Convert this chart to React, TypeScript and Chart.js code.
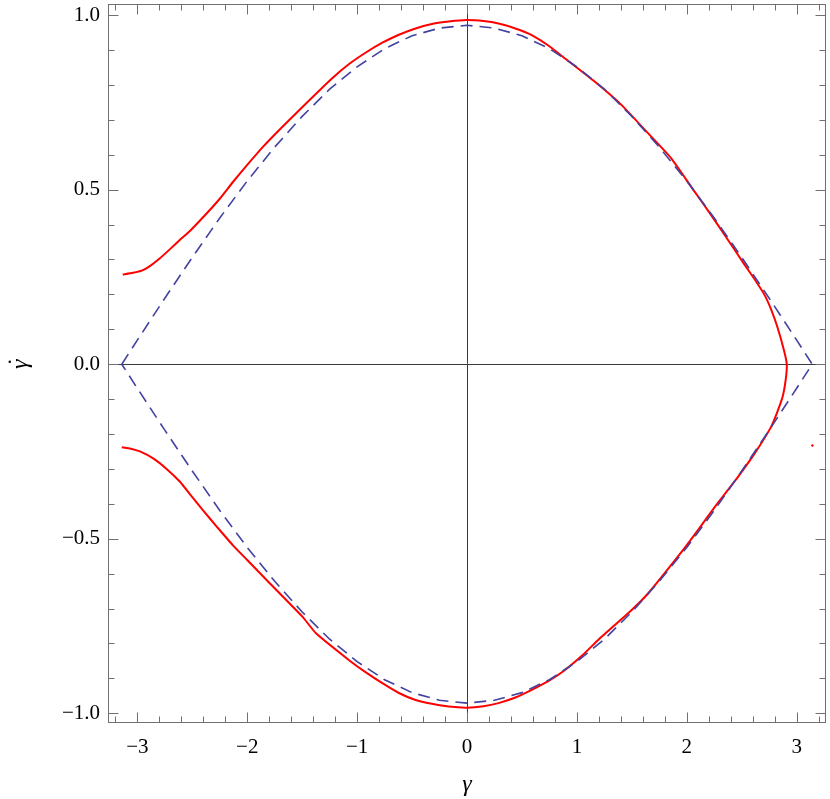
import React, { useEffect, useRef } from 'react';
import { Chart, registerables } from 'chart.js';

Chart.register(...registerables);

// axis ranges
const X_MIN = -3.267;
const X_MAX = 3.267;
const Y_MIN = -1.028;
const Y_MAX = 1.032;

// tick values and labels
const xMajorTicks = [-3, -2, -1, 0, 1, 2, 3];
const xTickLabels = ['\u22123', '\u22122', '\u22121', '0', '1', '2', '3'];
const xMinorTicks = [-3.2, -2.8, -2.6, -2.4, -2.2, -1.8, -1.6, -1.4, -1.2, -0.8, -0.6, -0.4, -0.2,
  0.2, 0.4, 0.6, 0.8, 1.2, 1.4, 1.6, 1.8, 2.2, 2.4, 2.6, 2.8, 3.2];
const yMajorTicks = [-1, -0.5, 0, 0.5, 1];
const yTickLabels = ['\u22121.0', '\u22120.5', '0.0', '0.5', '1.0'];
const yMinorTicks = [-0.9, -0.8, -0.7, -0.6, -0.4, -0.3, -0.2, -0.1, 0.1, 0.2, 0.3, 0.4, 0.6, 0.7, 0.8, 0.9];

const xTitle = '\u03B3';
const yTitle = '\u03B3';
const yTitleDot = '\u02D9';

// separatrix (dashed), upper half left->right then lower half right->left
const sepUpperX = [-3.1416, -3.0, -2.75, -2.5, -2.25, -2.0, -1.75, -1.5, -1.25, -1.0, -0.75, -0.5, -0.25, 0,
  0.25, 0.5, 0.75, 1.0, 1.25, 1.5, 1.75, 2.0, 2.25, 2.5, 2.75, 3.0, 3.1416];
const sepUpperY = [0, 0.069, 0.189, 0.306, 0.419, 0.525, 0.622, 0.710, 0.788, 0.852, 0.904, 0.941, 0.963, 0.971,
  0.963, 0.941, 0.904, 0.852, 0.788, 0.710, 0.622, 0.525, 0.419, 0.306, 0.189, 0.069, 0];
const sepLowerX = [3.0, 2.75, 2.5, 2.25, 2.0, 1.75, 1.5, 1.25, 1.0, 0.75, 0.5, 0.25, 0,
  -0.25, -0.5, -0.75, -1.0, -1.25, -1.5, -1.75, -2.0, -2.25, -2.5, -2.75, -3.0, -3.1416];
const sepLowerY = [-0.069, -0.189, -0.306, -0.419, -0.525, -0.622, -0.710, -0.788, -0.852, -0.904, -0.941, -0.963, -0.971,
  -0.963, -0.941, -0.904, -0.852, -0.788, -0.710, -0.622, -0.525, -0.419, -0.306, -0.189, -0.069, 0];

// trajectory (red): upper branch left->right, around the turning point, lower branch right->left
const trajX = [-3.133, -3.04, -2.96, -2.886, -2.8, -2.705, -2.6, -2.524, -2.372, -2.25, -2.13, -2.0, -1.859, -1.677,
  -1.465, -1.224, -1.073, -0.92, -0.77, -0.62, -0.468, -0.3, -0.166, 0, 0.15, 0.287, 0.44, 0.589, 0.74, 0.892,
  1.164, 1.405, 1.647, 1.859, 2.07, 2.2, 2.343, 2.524, 2.62, 2.705, 2.77, 2.826, 2.886, 2.91, 2.9, 2.871, 2.82,
  2.765, 2.615, 2.463, 2.252, 2.1, 1.974, 1.647, 1.496, 1.194, 1.05, 0.892, 0.74, 0.589, 0.44, 0.287, 0.15, 0,
  -0.166, -0.32, -0.468, -0.62, -0.77, -0.92, -1.073, -1.374, -1.496, -1.828, -2.0, -2.13, -2.27, -2.402,
  -2.52, -2.614, -2.734, -2.856, -2.976, -3.06, -3.142];
const trajY = [0.257, 0.262, 0.268, 0.281, 0.302, 0.329, 0.36, 0.381, 0.431, 0.474, 0.522, 0.571, 0.622, 0.681,
  0.747, 0.82, 0.86, 0.893, 0.921, 0.944, 0.962, 0.976, 0.982, 0.986, 0.983, 0.976, 0.962, 0.943, 0.913, 0.876,
  0.809, 0.743, 0.662, 0.590, 0.495, 0.437, 0.371, 0.286, 0.242, 0.2, 0.155, 0.105, 0.038, 0, -0.045, -0.095, -0.14,
  -0.181, -0.257, -0.324, -0.41, -0.476, -0.529, -0.657, -0.705, -0.79, -0.834, -0.876, -0.908, -0.933, -0.955,
  -0.971, -0.98, -0.984, -0.981, -0.973, -0.962, -0.942, -0.914, -0.883, -0.848, -0.771, -0.724, -0.617, -0.561,
  -0.519, -0.468, -0.419, -0.373, -0.336, -0.3, -0.27, -0.25, -0.242, -0.238];

// stray point
const strayX = [3.143];
const strayY = [-0.233];

const zip = (xs: number[], ys: number[]) => xs.map((x, i) => ({ x, y: ys[i] }));

const TITLE_FONT = 'italic 24px "Liberation Serif", "Times New Roman", serif';
const TICK_FAMILY = '"Liberation Serif", "Times New Roman", serif';

const framePlugin = {
  id: 'framePlugin',
  beforeDatasetsDraw(chart: any) {
    const { ctx, chartArea: a, scales } = chart;
    const x0 = scales.x.getPixelForValue(0);
    const y0 = scales.y.getPixelForValue(0);
    ctx.save();
    ctx.strokeStyle = '#3a3a3a';
    ctx.lineWidth = 1;
    ctx.beginPath();
    ctx.moveTo(Math.round(x0) + 0.5, a.top);
    ctx.lineTo(Math.round(x0) + 0.5, a.bottom);
    ctx.moveTo(a.left, Math.round(y0) + 0.5);
    ctx.lineTo(a.right, Math.round(y0) + 0.5);
    ctx.stroke();
    ctx.restore();
  },
  afterDatasetsDraw(chart: any) {
    const { ctx, chartArea: a, scales } = chart;
    ctx.save();
    ctx.strokeStyle = '#707070';
    ctx.lineWidth = 1;
    const L = Math.round(a.left) + 0.5;
    const R = Math.round(a.right) - 0.5;
    const T = Math.round(a.top) + 0.5;
    const B = Math.round(a.bottom) - 0.5;
    ctx.strokeRect(L, T, R - L, B - T);
    ctx.beginPath();
    const xt = (v: number, len: number) => {
      const p = Math.round(scales.x.getPixelForValue(v)) + 0.5;
      ctx.moveTo(p, B); ctx.lineTo(p, B - len);
      ctx.moveTo(p, T); ctx.lineTo(p, T + len);
    };
    const yt = (v: number, len: number) => {
      const p = Math.round(scales.y.getPixelForValue(v)) + 0.5;
      ctx.moveTo(L, p); ctx.lineTo(L + len, p);
      ctx.moveTo(R, p); ctx.lineTo(R - len, p);
    };
    xMajorTicks.forEach(v => xt(v, 10));
    xMinorTicks.forEach(v => xt(v, 6));
    yMajorTicks.forEach(v => yt(v, 10));
    yMinorTicks.forEach(v => yt(v, 6));
    ctx.stroke();
    ctx.restore();
  },
  afterDraw(chart: any) {
    const { ctx, scales } = chart;
    ctx.save();
    ctx.fillStyle = '#000';
    ctx.font = TITLE_FONT;
    ctx.textAlign = 'center';
    ctx.textBaseline = 'alphabetic';
    ctx.fillText(xTitle, scales.x.getPixelForValue(0), 791);
    ctx.translate(27, scales.y.getPixelForValue(0));
    ctx.rotate(-Math.PI / 2);
    ctx.fillText(yTitle, 0, 0);
    ctx.fillText(yTitleDot, 1, -3);
    ctx.restore();
  },
};

export default function App() {
  const ref = useRef<HTMLCanvasElement>(null);
  useEffect(() => {
    document.body.style.margin = '0';
    const chart = new Chart(ref.current as HTMLCanvasElement, {
      type: 'scatter',
      data: {
        datasets: [
          {
            data: [...zip(sepUpperX, sepUpperY), ...zip(sepLowerX, sepLowerY)],
            showLine: true,
            borderColor: '#4242a0',
            borderWidth: 1.6,
            borderDash: [12, 7],
            pointRadius: 0,
            tension: 0,
          },
          {
            data: zip(trajX, trajY),
            showLine: true,
            borderColor: '#ff0000',
            borderWidth: 2,
            pointRadius: 0,
            tension: 0.15,
          },
          {
            data: zip(strayX, strayY),
            showLine: false,
            pointRadius: 1.2,
            pointBackgroundColor: '#ff0000',
            pointBorderWidth: 0,
          },
        ],
      },
      options: {
        responsive: false,
        animation: false,
        devicePixelRatio: 1,
        layout: { padding: { top: 2, right: 2, left: 0, bottom: 0 } },
        plugins: { legend: { display: false }, tooltip: { enabled: false } },
        scales: {
          x: {
            type: 'linear',
            min: X_MIN,
            max: X_MAX,
            afterFit: (s: any) => { s.height = 76; s.paddingLeft = 0; s.paddingRight = 0; s.paddingTop = 0; s.paddingBottom = 0; },
            afterBuildTicks: (s: any) => { s.ticks = xMajorTicks.map(v => ({ value: v })); },
            ticks: {
              callback: (v: any) => { const i = xMajorTicks.indexOf(Number(v)); return i >= 0 ? xTickLabels[i] : ''; },
              font: { family: TICK_FAMILY, size: 21 },
              color: '#000',
              padding: 12,
              maxRotation: 0,
              autoSkip: false,
            },
            grid: { display: false, drawTicks: false },
            border: { display: false },
          },
          y: {
            type: 'linear',
            min: Y_MIN,
            max: Y_MAX,
            afterFit: (s: any) => { s.width = 108; s.paddingTop = 0; s.paddingBottom = 0; s.paddingLeft = 0; s.paddingRight = 0; },
            afterBuildTicks: (s: any) => { s.ticks = yMajorTicks.map(v => ({ value: v })); },
            ticks: {
              callback: (v: any) => { const i = yMajorTicks.indexOf(Number(v)); return i >= 0 ? yTickLabels[i] : ''; },
              font: { family: TICK_FAMILY, size: 21 },
              color: '#000',
              padding: 8,
              autoSkip: false,
            },
            grid: { display: false, drawTicks: false },
            border: { display: false },
          },
        },
      },
      plugins: [framePlugin],
    });
    return () => chart.destroy();
  }, []);
  return (
    <div style={{ width: 830, height: 799 }}>
      <canvas ref={ref} width={830} height={799} style={{ display: 'block' }} />
    </div>
  );
}
